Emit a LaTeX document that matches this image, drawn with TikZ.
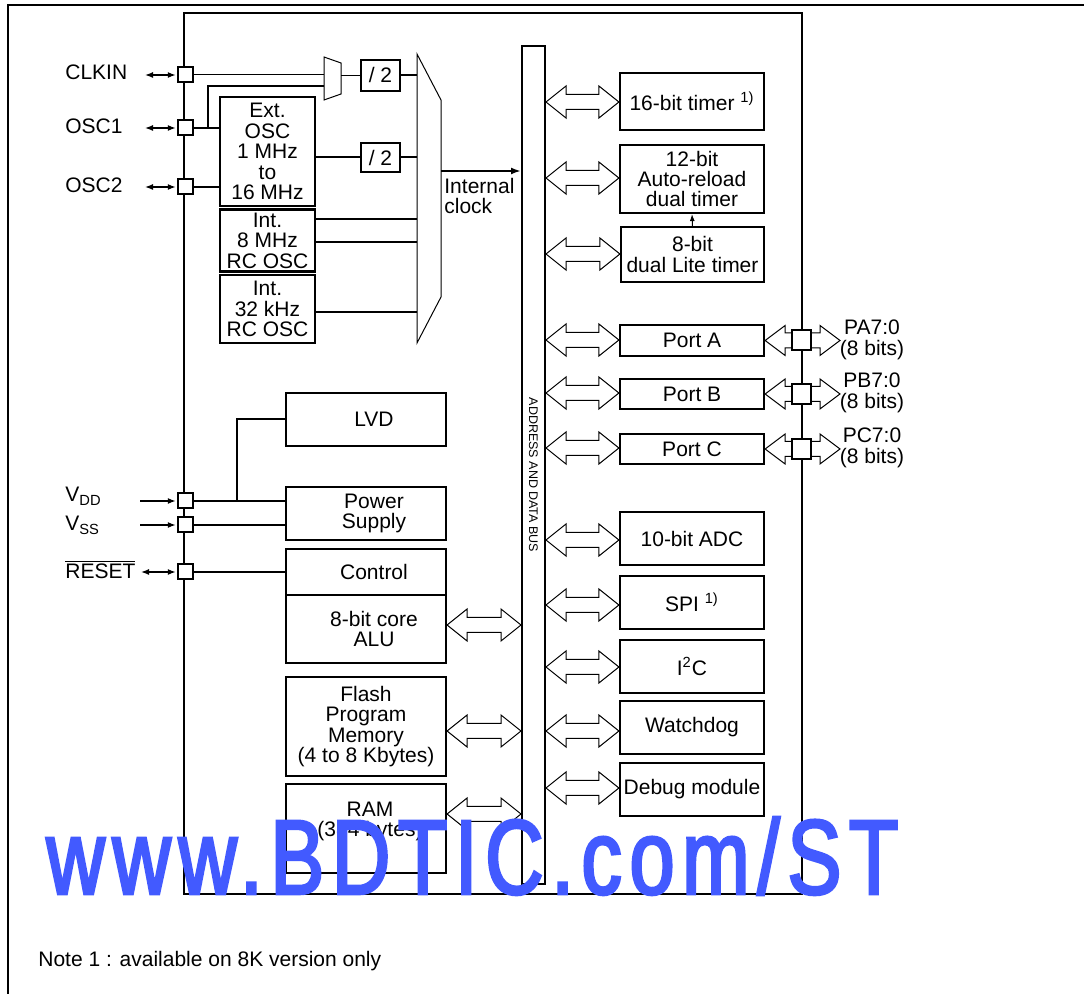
\documentclass[tikz,border=0pt]{standalone}
\usepackage{fontspec}
\setmainfont{Liberation Sans}
\newfontfamily\wmfont[FakeStretch=0.74,LetterSpace=7,FakeBold=2.5]{Liberation Sans}
\usetikzlibrary{arrows.meta,fit,calc}
\definecolor{wmblue}{RGB}{66,90,255}
\tikzset{
  every node/.style={font=\fontsize{10.5}{10.2}\selectfont},
  blk/.style={draw, line width=1.1pt, inner sep=0pt},
  txt/.style={align=center, inner sep=0pt},
  pinbox/.style={draw, fill=white, line width=1pt, minimum size=7.5pt, inner sep=0pt},
  ppin/.style={draw, fill=white, line width=1pt, minimum width=9.5pt, minimum height=10pt, inner sep=0pt},
  wire/.style={line width=1pt},
  thinwire/.style={line width=0.5pt},
  pinarrow/.style={line width=0.7pt, shorten >=0.6pt, {Latex[length=4pt,width=3pt]}-{Latex[length=4pt,width=3pt]}},
  inarrow/.style={line width=0.7pt, shorten >=0.6pt, -{Latex[length=4pt,width=3pt]}},
  hollow/.style={draw, fill=white, line width=0.5pt, line join=miter},
}
\newcommand\blk[5][]{%
  \node[blk, fit={#3 #4}] (#2) {};
  \node[txt, #1] (#2t) at (#2.center) {#5};}
\newcommand\hollowarrow[4]{%
  \path[hollow] let \p1=(#1), \p2=(#2) in
    (\x1,\y1) -- (\x1+#4,\y1+#3) -- (\x1+#4,\y1+3.75pt) -- (\x2-#4,\y1+3.75pt)
    -- (\x2-#4,\y1+#3) -- (\x2,\y1) -- (\x2-#4,\y1-#3) -- (\x2-#4,\y1-3.75pt)
    -- (\x1+#4,\y1-3.75pt) -- (\x1+#4,\y1-#3) -- cycle;}
\begin{document}
\begin{tikzpicture}[x=0.5pt,y=-0.5pt]
\useasboundingbox (0,0) rectangle (1084,994);
% outer frame
\draw[line width=1pt] (8,994) -- (8,5) -- (1084,5);
% chip and bus
\node[blk, line width=1.2pt, fit={(184,13) (802,894)}] (chip) {};
\node[blk, line width=1pt, fit={(522,46) (545,884)}] (bus) {};
\node[font=\fontsize{6.25}{7}\selectfont, rotate=-90, inner sep=0pt] (busl) at (533.5,475) {ADDRESS AND DATA BUS};

% clock section
\blk{ext}{(220,97)}{(315,206)}{Ext.\\OSC\\1 MHz\\to\\16 MHz}
\blk{int8}{(220,209.5)}{(315,271.5)}{Int.\\8 MHz\\RC OSC}
\blk{int32}{(220,275)}{(315,343)}{Int.\\32 kHz\\RC OSC}
\blk{div2a}{(361,60)}{(400,91)}{/ 2}
\blk{div2b}{(361,143)}{(400,172)}{/ 2}
\draw[thinwire] (324,57) -- (341,63) -- (341,94) -- (324,100) -- cycle;
\draw[thinwire] (417,54) -- (441,100) -- (441,297) -- (417,343) -- cycle;
\coordinate (smL) at (324,0);
\coordinate (smin2) at (324,86);
\coordinate (smout) at (341,76);
\coordinate (bmL) at (417,0);
\coordinate (bmout) at (441,171);
\node[anchor=west, align=left, inner sep=0pt] (intclk) at (444,196) {Internal\\clock};

% right blocks
\blk{t16}{(620,73)}{(764,130)}{16-bit timer \textsuperscript{1)}}
\blk{t12}{(620,145)}{(764,213)}{12-bit\\Auto-reload\\dual timer}
\blk{t8}{(621,227)}{(764,282)}{8-bit\\dual Lite timer}
\blk{portA}{(620,325)}{(764,356)}{Port A}
\blk{portB}{(620,379)}{(764,409)}{Port B}
\blk{portC}{(620,434)}{(764,464)}{Port C}
\blk{adc}{(620,512)}{(764,565)}{10-bit ADC}
\blk{spi}{(620,576)}{(764,629)}{SPI \textsuperscript{1)}}
\blk{i2c}{(620,640)}{(764,693)}{I\textsuperscript{2}C}
\blk{wdg}{(620,701)}{(764,754)}{Watchdog}
\blk{dbg}{(620,763)}{(764,816)}{Debug module}

% left blocks
\blk[xshift=4pt]{lvd}{(286,393)}{(446,446)}{LVD}
\blk[xshift=4pt]{psu}{(286,487)}{(446,540)}{Power\\Supply}
\blk[xshift=4pt]{ctrl}{(286,549)}{(446,595)}{Control}
\blk[xshift=4pt]{alu}{(286,595)}{(446,663)}{8-bit core\\ALU}
\blk{flash}{(286,677)}{(446,776)}{Flash\\Program\\Memory\\(4 to 8 Kbytes)}
\blk[xshift=2pt, yshift=3.5pt]{ram}{(286,784)}{(446,873)}{RAM\\(384 bytes)}

% pins on left edge
\node[pinbox] (pclk) at (185.5,75) {};
\node[pinbox] (posc1) at (185.5,128) {};
\node[pinbox] (posc2) at (185.5,187) {};
\node[pinbox] (pvdd) at (185.5,501) {};
\node[pinbox] (pvss) at (185.5,525) {};
\node[pinbox] (prst) at (185.5,572) {};

% clock wiring
\coordinate (br1) at (208,128);
\draw[thinwire] (pclk.east) -- (pclk.east -| smL);
\draw[wire] (posc1.east) -- (ext.west |- posc1.east);
\draw[wire] (br1) |- (smin2);
\draw[wire] (posc2.east) -- (ext.west |- posc2.east);
\draw[thinwire] (smout) -- (div2a.west |- smout);
\draw[wire] (div2a.east) -- (div2a.east -| bmL);
\draw[wire] (ext.east |- div2b.west) -- (div2b.west);
\draw[wire] (div2b.east) -- (div2b.east -| bmL);
\coordinate (i8a) at (315,219);
\coordinate (i8b) at (315,242);
\coordinate (i32) at (315,312);
\draw[wire] (i8a) -- (i8a -| bmL);
\draw[wire] (i8b) -- (i8b -| bmL);
\draw[wire] (i32) -- (i32 -| bmL);
\draw[wire, -{Latex[length=5pt,width=3.5pt]}] (bmout) -- (bus.west |- bmout);
\draw[thinwire, -{Latex[length=3.5pt,width=2.5pt]}] (t8.north) -- (t12.south);

% power / reset wiring
\coordinate (vbr) at (237,501);
\draw[wire] (pvdd.east) -- (psu.west |- pvdd.east);
\draw[wire] (vbr) |- (lvd.west);
\draw[wire] (pvss.east) -- (psu.west |- pvss.east);
\draw[wire] (prst.east) -- (ctrl.west |- prst.east);

% pin labels and arrows
\node[anchor=west, inner sep=0pt] (lclk) at (65,72) {CLKIN};
\node[anchor=west, inner sep=0pt] (losc1) at (65,126) {OSC1};
\node[anchor=west, inner sep=0pt] (losc2) at (65,185) {OSC2};
\node[anchor=base west, inner sep=0pt] (lvdd) at (65,502) {V\textsubscript{DD}};
\node[anchor=base west, inner sep=0pt] (lvss) at (65,531) {V\textsubscript{SS}};
\node[anchor=base west, inner sep=0pt] (lrst) at (65,579) {$\overline{\hbox{RESET}}$};
\coordinate (aclk) at (145,75);
\coordinate (aosc1) at (145,128);
\coordinate (aosc2) at (145,187);
\coordinate (avdd) at (140,501);
\coordinate (avss) at (140,525);
\coordinate (arst) at (141,572);
\draw[pinarrow] (aclk) -- (pclk.west);
\draw[pinarrow] (aosc1) -- (posc1.west);
\draw[pinarrow] (aosc2) -- (posc2.west);
\draw[inarrow] (avdd) -- (pvdd.west);
\draw[inarrow] (avss) -- (pvss.west);
\draw[pinarrow] (arst) -- (prst.west);

% bus arrows
\foreach \bk/\yy in {t16/102, t12/178, t8/254, portA/340, portB/393, portC/448, adc/540, spi/605, i2c/667, wdg/731, dbg/788}{
  \coordinate (yy) at (0,\yy);
  \hollowarrow{bus.east |- yy}{\bk.west |- yy}{8pt}{10pt}
}
\foreach \bk/\yy in {alu/625, flash/731, ram/814}{
  \coordinate (yy) at (0,\yy);
  \hollowarrow{\bk.east |- yy}{bus.west |- yy}{8pt}{10pt}
}

% port pins
\coordinate (paend) at (840,340);
\coordinate (pbend) at (840,394);
\coordinate (pcend) at (840,449);
\hollowarrow{portA.east}{paend}{7.5pt}{10pt}
\hollowarrow{portB.east}{pbend}{7.5pt}{10pt}
\hollowarrow{portC.east}{pcend}{7.5pt}{10pt}
\node[ppin] (ppa) at (801.5,340.5) {};
\node[ppin] (ppb) at (801.5,394) {};
\node[ppin] (ppc) at (801.5,449) {};
\node[txt] (pal) at (872,340) {PA7:0\\(8 bits)};
\node[txt] (pbl) at (872,393) {PB7:0\\(8 bits)};
\node[txt] (pcl) at (872,448) {PC7:0\\(8 bits)};

% note
\node[anchor=west, inner sep=0pt] (note) at (38,961) {Note 1 : available on 8K version only};

% watermark
\node[anchor=base west, inner sep=0pt, text=wmblue] (wm) at (46,894) {\resizebox{426pt}{38.5pt}{\wmfont www.BDTIC.com/ST}};
\end{tikzpicture}
\end{document}
